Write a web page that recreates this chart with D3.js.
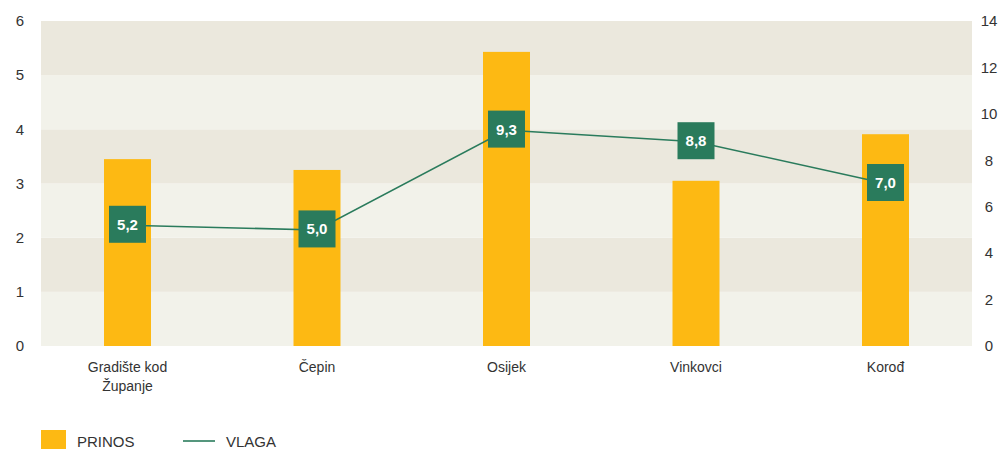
<!DOCTYPE html>
<html>
<head>
<meta charset="utf-8">
<script src="https://cdn.jsdelivr.net/npm/d3@7"></script>
<style>
  body { margin: 0; background: #fff; }
  text { font-family: "Liberation Sans", Arial, sans-serif; }
</style>
</head>
<body>
<div id="chart"></div>
<script>
// data
var categories = ["Gradište kod\nŽupanje", "Čepin", "Osijek", "Vinkovci", "Korođ"];
var prinos = [3.45, 3.25, 5.43, 3.05, 3.91];
var vlaga = [5.2, 5.0, 9.3, 8.8, 7.0];
var leftTicks = [0, 1, 2, 3, 4, 5, 6];
var rightTicks = [0, 2, 4, 6, 8, 10, 12, 14];

var width = 999, height = 450;
var plot = {left: 41, right: 972, top: 21, bottom: 346};

var svg = d3.select("#chart")
  .append("svg")
    .attr("width", width)
    .attr("height", height);

var x = d3.scalePoint()
  .domain(categories)
  .range([127.5, 885.5]);

var y = d3.scaleLinear()
  .domain([0, 6])
  .range([plot.bottom, plot.top]);

var y2 = d3.scaleLinear()
  .domain([0, 14])
  .range([plot.bottom, plot.top]);

// background bands
svg.selectAll("rect.band")
  .data(leftTicks.slice(0, -1))
  .enter()
  .append("rect")
    .attr("class", "band")
    .attr("x", plot.left)
    .attr("width", plot.right - plot.left)
    .attr("y", function(d) { return y(d + 1); })
    .attr("height", function(d) { return y(d) - y(d + 1); })
    .attr("fill", function(d) { return d % 2 == 0 ? "#f2f2ea" : "#ebe8dd"; });

// left axis
var axL = svg.append("g")
  .attr("transform", "translate(" + plot.left + ",0)")
  .call(d3.axisLeft(y).tickValues(leftTicks).tickFormat(d3.format("d")).tickSize(0).tickPadding(21));
axL.select(".domain").remove();
axL.selectAll("text")
  .attr("font-size", 15)
  .attr("fill", "#333")
  .attr("text-anchor", "middle")
  .style("font-family", "Liberation Sans, Arial, sans-serif");

// right axis
var axR = svg.append("g")
  .attr("transform", "translate(" + plot.right + ",0)")
  .call(d3.axisRight(y2).tickValues(rightTicks).tickFormat(d3.format("d")).tickSize(0).tickPadding(17));
axR.select(".domain").remove();
axR.selectAll("text")
  .attr("font-size", 15)
  .attr("fill", "#333")
  .attr("text-anchor", "middle")
  .style("font-family", "Liberation Sans, Arial, sans-serif");

// bars
var barW = 47;
svg.selectAll("rect.bar")
  .data(prinos)
  .enter()
  .append("rect")
    .attr("class", "bar")
    .attr("x", function(d, i) { return x(categories[i]) - barW / 2; })
    .attr("y", function(d) { return y(d); })
    .attr("width", barW)
    .attr("height", function(d) { return y(0) - y(d); })
    .attr("fill", "#fdb913");

// line
var line = d3.line()
  .x(function(d, i) { return x(categories[i]); })
  .y(function(d) { return y2(d); });

svg.append("path")
  .datum(vlaga)
  .attr("d", line)
  .attr("fill", "none")
  .attr("stroke", "#2a7b5c")
  .attr("stroke-width", 1.6);

// value labels
var lab = svg.selectAll("g.lab")
  .data(vlaga)
  .enter()
  .append("g")
    .attr("class", "lab")
    .attr("transform", function(d, i) { return "translate(" + x(categories[i]) + "," + (y2(d) - 1) + ")"; });
lab.append("rect")
  .attr("x", -18.5).attr("y", -18.5)
  .attr("width", 37).attr("height", 37)
  .attr("fill", "#2a7b5c");
lab.append("text")
  .attr("text-anchor", "middle")
  .attr("dy", "0.36em")
  .attr("font-size", 15)
  .attr("font-weight", "bold")
  .attr("fill", "#fff")
  .text(function(d) { return d3.format(".1f")(d).replace(".", ","); });

// category labels
var cat = svg.selectAll("text.cat")
  .data(categories)
  .enter()
  .append("text")
    .attr("class", "cat")
    .attr("text-anchor", "middle")
    .attr("font-size", 14)
    .attr("fill", "#333")
    .style("font-family", "'Liberation Sans Narrow', 'Liberation Sans', sans-serif")
    .attr("transform", function(d) { return "translate(" + x(d) + ",372)"; });
cat.selectAll("tspan")
  .data(function(d) { return d.split("\n"); })
  .enter()
  .append("tspan")
    .attr("x", 0)
    .attr("dy", function(d, i) { return i == 0 ? 0 : 19; })
    .text(function(d) { return d; });

// legend
svg.append("rect")
  .attr("x", 41).attr("y", 430)
  .attr("width", 25).attr("height", 19)
  .attr("fill", "#fdb913");
svg.append("text")
  .attr("x", 77).attr("y", 447)
  .attr("font-size", 15)
  .attr("fill", "#333")
  .text("PRINOS");
svg.append("line")
  .attr("x1", 183).attr("x2", 215)
  .attr("y1", 441).attr("y2", 441)
  .attr("stroke", "#2a7b5c")
  .attr("stroke-width", 1.6);
svg.append("text")
  .attr("x", 226).attr("y", 447)
  .attr("font-size", 15)
  .attr("fill", "#333")
  .text("VLAGA");
</script>
</body>
</html>
